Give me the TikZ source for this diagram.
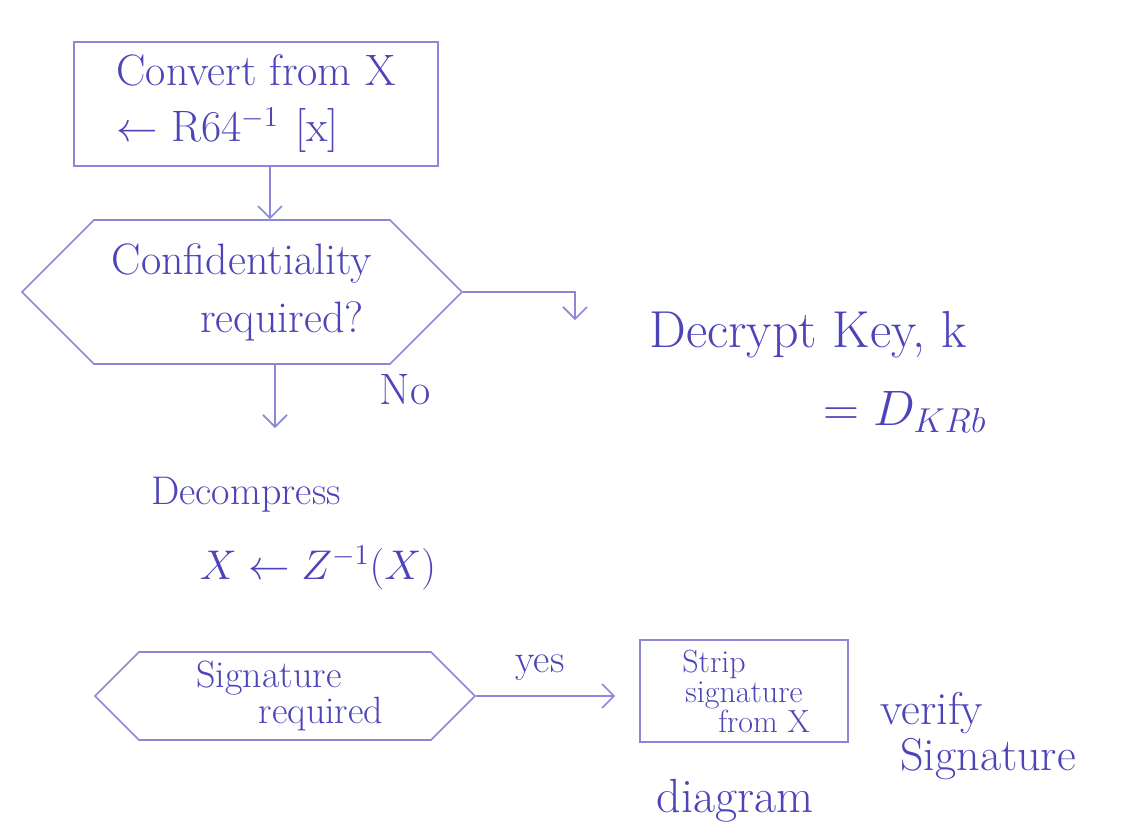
\documentclass[tikz,border=0pt]{standalone}
\usetikzlibrary{arrows.meta,shapes.symbols}
\definecolor{ink}{RGB}{78,68,185}
\definecolor{pen}{RGB}{140,135,218}
\begin{document}
\begin{tikzpicture}[x=0.5pt,y=-0.5pt,
  hand/.style={text=ink, inner sep=1pt, font=\fontsize{20}{28}\selectfont},
  procbox/.style={draw=pen, line width=0.8pt, rectangle, inner sep=0pt},
  decision/.style={draw=pen, line width=0.8pt, signal, signal to=west and east,
    signal pointer angle=90, inner sep=0pt},
  flow/.style={draw=pen, line width=0.8pt, -{Straight Barb[length=6pt,width=12pt]}},
  link/.style={draw=pen, line width=0.8pt}]
\useasboundingbox[fill=white] (0,0) rectangle (1121,832);

% conversion step
\node[procbox, hand, align=left, minimum width=182pt, minimum height=62pt,
  font=\fontsize{22}{28}\selectfont]
  (conv) at (256,104) {Convert from X\\ $\leftarrow$ R64$^{-1}$\hspace*{8pt}[x]};

% confidentiality test
\node[decision, hand, align=center, minimum width=220pt, minimum height=72pt,
  font=\fontsize{22}{29}\selectfont]
  (conf) at (242,292) {Confidentiality\\\hspace*{40pt}required?};
\draw[flow] ([xshift=7pt]conv.south) -- ([xshift=7pt]conv.south |- conf.north);

% yes branch: decrypt the session key
\coordinate (dk) at (575,320);
\draw[flow] (conf.east) -| (dk);
\node[hand, font=\fontsize{26}{28}\selectfont] (dec) at (808,335) {Decrypt Key, k};
\node[hand, font=\fontsize{26}{28}\selectfont] (dkr) at (905,412) {$= D_{KRb}$};

% no branch
\coordinate (nodown) at (275,428);
\draw[flow] (conf.south -| nodown) -- (nodown);
\node[hand, font=\fontsize{22}{26}\selectfont] (no) at (405,390) {No};

% decompression
\node[hand] (decomp) at (246,495) {Decompress};
\node[hand, font=\fontsize{22}{26}\selectfont] (zexp) at (318,568) {$X \leftarrow Z^{-1}(X)$};

% signature test
\node[decision, hand, align=center, minimum width=190pt, minimum height=44pt,
  font=\fontsize{19}{14}\selectfont]
  (sig) at (285,696) {Signature\hspace*{16pt}\\\hspace*{36pt}required};
\node[procbox, hand, align=center, minimum width=104pt, minimum height=51pt,
  font=\fontsize{16}{15}\selectfont]
  (strip) at (744,691) {Strip\hspace*{30pt}\\signature\\\hspace*{20pt}from X};
\draw[flow, shorten >=12pt] (sig.east) -- (sig.east -| strip.west);
\node[hand] (yes) at (540,668) {yes};

% verification
\node[hand, align=left, anchor=north west, font=\fontsize{23}{23}\selectfont]
  (verify) at (878,690) {verify\\\hspace*{10pt}Signature};

% caption at the foot of the page
\node[hand, anchor=base, font=\fontsize{24}{28}\selectfont] (cap) at (735,812) {diagram};
\end{tikzpicture}
\end{document}
